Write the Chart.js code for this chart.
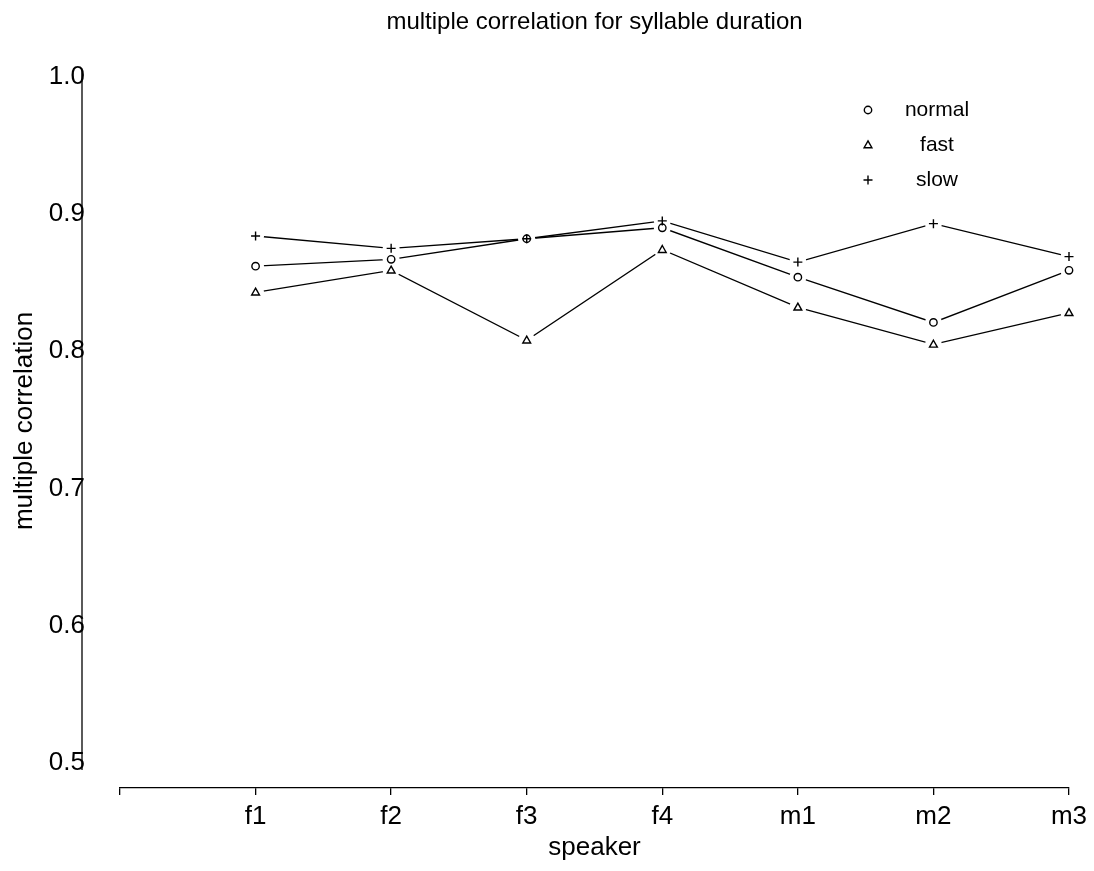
<!DOCTYPE html>
<html>
<head>
<meta charset="utf-8">
<title>multiple correlation for syllable duration</title>
<script src="https://cdn.jsdelivr.net/npm/chart.js@4/dist/chart.umd.min.js"></script>
<style>
  html, body { margin: 0; padding: 0; background: #fff; }
  #wrap { width: 1094px; height: 871px; }
</style>
</head>
<body>
<div id="wrap"><canvas id="chart" width="1094" height="871"></canvas></div>
<script>
// --- DATA ---
const speakers = ['f1', 'f2', 'f3', 'f4', 'm1', 'm2', 'm3'];
const normalVals = [0.862, 0.867, 0.882, 0.890, 0.854, 0.821, 0.859];
const fastVals   = [0.843, 0.859, 0.808, 0.874, 0.832, 0.805, 0.828];
const slowVals   = [0.884, 0.875, 0.882, 0.895, 0.865, 0.893, 0.869];
const yTicks = [0.5, 0.6, 0.7, 0.8, 0.9, 1.0];
const seriesNames = ['normal', 'fast', 'slow'];
const seriesMarkers = ['circle', 'triangle', 'plus'];

const chartTitle = 'multiple correlation for syllable duration';
const xTitle = 'speaker';
const yTitle = 'multiple correlation';

const FONT = '"Liberation Sans", Arial, Helvetica, sans-serif';

function toPoints(vals) {
    return vals.map((v, i) => ({ x: i + 1, y: v }));
}

// open plotting symbols, like an old S plot
function drawSymbol(ctx, kind, x, y) {
    ctx.beginPath();
    if (kind === 'circle') {
        ctx.arc(x, y, 3.7, 0, Math.PI * 2);
    } else if (kind === 'triangle') {
        ctx.moveTo(x, y - 4.2);
        ctx.lineTo(x + 3.9, y + 2.7);
        ctx.lineTo(x - 3.9, y + 2.7);
        ctx.closePath();
    } else {
        ctx.moveTo(x - 4.5, y); ctx.lineTo(x + 4.5, y);
        ctx.moveTo(x, y - 4.5); ctx.lineTo(x, y + 4.5);
    }
    ctx.stroke();
}

// --- EXTRA DRAWING: markers with gaps, detached y axis, y title, legend ---
const extras = {
    id: 'extras',
    afterDatasetsDraw(chart) {
        const ctx = chart.ctx;
        const metas = chart.data.datasets.map((ds, i) => chart.getDatasetMeta(i));
        ctx.save();
        // white halo first so the lines stop short of each symbol
        ctx.fillStyle = '#fff';
        metas.forEach(m => m.data.forEach(p => {
            ctx.beginPath();
            ctx.arc(p.x, p.y, 8.5, 0, Math.PI * 2);
            ctx.fill();
        }));
        ctx.strokeStyle = '#000';
        ctx.lineWidth = 1.4;
        metas.forEach((m, i) => m.data.forEach(p => drawSymbol(ctx, chart.data.datasets[i].marker, p.x, p.y)));
        ctx.restore();
    },
    afterDraw(chart) {
        const { ctx, scales: { y } } = chart;
        ctx.save();
        ctx.strokeStyle = '#000';
        ctx.lineWidth = 1.3;
        ctx.beginPath();
        ctx.moveTo(82, y.getPixelForValue(1.0) - 7);
        ctx.lineTo(82, y.getPixelForValue(0.5) + 7);
        ctx.stroke();

        ctx.fillStyle = '#000';
        ctx.font = '26px ' + FONT;
        ctx.textAlign = 'center';
        ctx.textBaseline = 'middle';
        ctx.save();
        ctx.translate(25, 421);
        ctx.rotate(-Math.PI / 2);
        ctx.fillText(yTitle, 0, 0);
        ctx.restore();

        ctx.font = '21px ' + FONT;
        ctx.lineWidth = 1.4;
        chart.data.datasets.forEach((ds, i) => {
            const ly = 110 + i * 35;
            drawSymbol(ctx, ds.marker, 868, ly);
            ctx.fillText(ds.label, 937, ly);
        });
        ctx.restore();
    }
};

const lineStyle = { borderColor: '#000', borderWidth: 1.3, tension: 0, pointRadius: 0, pointHoverRadius: 0, clip: false };

new Chart(document.getElementById('chart').getContext('2d'), {
    type: 'line',
    data: {
        datasets: [
            { label: seriesNames[0], marker: seriesMarkers[0], data: toPoints(normalVals), ...lineStyle },
            { label: seriesNames[1], marker: seriesMarkers[1], data: toPoints(fastVals), ...lineStyle },
            { label: seriesNames[2], marker: seriesMarkers[2], data: toPoints(slowVals), ...lineStyle }
        ]
    },
    options: {
        responsive: false,
        animation: false,
        layout: { padding: { left: 0, right: 25, top: 0, bottom: 0 } },
        plugins: {
            legend: { display: false },
            tooltip: { enabled: false },
            title: {
                display: true,
                text: chartTitle,
                fullSize: false,
                color: '#000',
                font: { family: FONT, size: 24, weight: 'normal' },
                padding: { top: 8, bottom: 40 }
            }
        },
        scales: {
            x: {
                type: 'linear',
                min: 0,
                max: 7,
                afterFit: s => { s.height = 83; },
                ticks: {
                    stepSize: 1,
                    color: '#000',
                    padding: 6,
                    maxRotation: 0,
                    font: { family: FONT, size: 26 },
                    callback: v => (v >= 1 ? speakers[v - 1] : '')
                },
                grid: { display: true, drawOnChartArea: false, drawTicks: true, tickLength: 7, color: '#000', lineWidth: 1.3 },
                border: { display: true, color: '#000', width: 1.3 },
                title: {
                    display: true,
                    text: xTitle,
                    color: '#000',
                    font: { family: FONT, size: 26 },
                    padding: { top: 0, bottom: 8 }
                }
            },
            y: {
                min: 0.4818,
                max: 1.0,
                afterFit: s => { s.width = 120; },
                afterBuildTicks: s => { s.ticks = yTicks.map(v => ({ value: v })); },
                ticks: {
                    color: '#000',
                    padding: 27,
                    font: { family: FONT, size: 26 },
                    callback: v => v.toFixed(1)
                },
                grid: { display: false },
                border: { display: false }
            }
        }
    },
    plugins: [extras]
});
</script>
</body>
</html>
